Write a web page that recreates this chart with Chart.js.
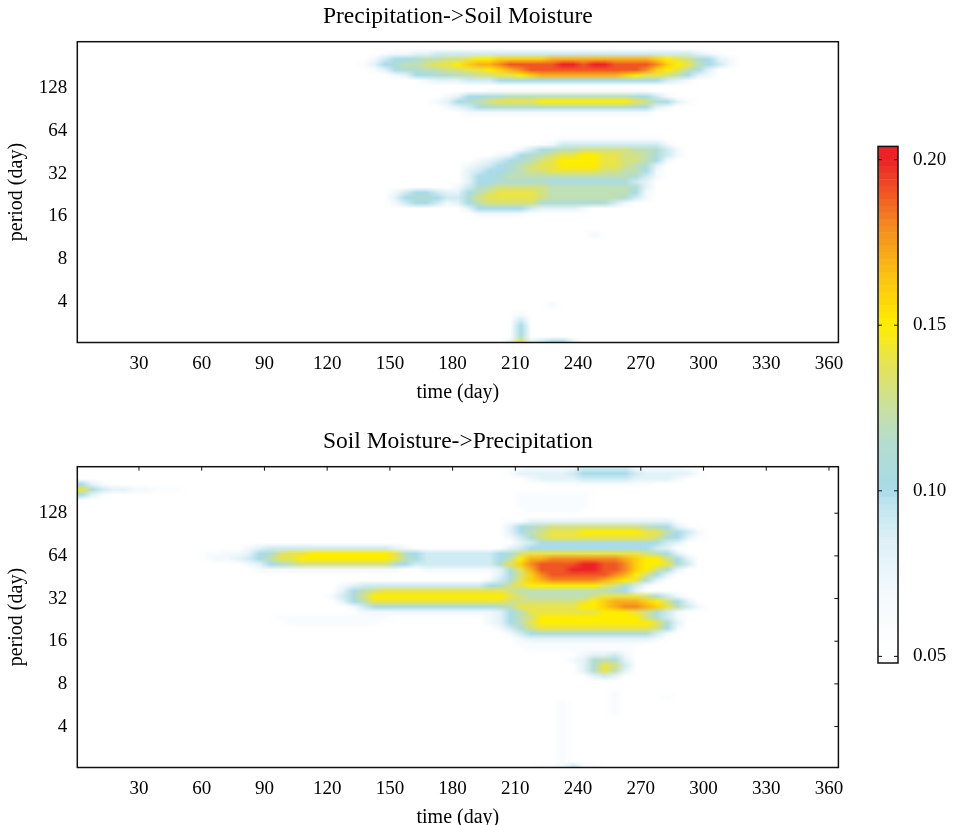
<!DOCTYPE html>
<html>
<head>
<meta charset="utf-8">
<title>Wavelet coherence: precipitation and soil moisture</title>
<script src="https://cdn.jsdelivr.net/npm/chart.js@4.4.1/dist/chart.umd.min.js"></script>
<style>
  html, body { margin: 0; padding: 0; background: #fff; overflow: hidden; }
  #wrap { position: relative; width: 959px; height: 825px; }
  canvas { position: absolute; }
</style>
</head>
<body>
<div id="wrap">
  <canvas id="topPanel" width="915" height="405" style="left:0;top:0"></canvas>
  <canvas id="bottomPanel" width="915" height="405" style="left:0;top:425px"></canvas>
  <canvas id="scaleBar" width="89" height="570" style="left:870px;top:120px"></canvas>
</div>
<script>
// grid columns: centre of each 5-day bin
const days = [2.5, 7.5, 12.5, 17.5, 22.5, 27.5, 32.5, 37.5, 42.5, 47.5, 52.5, 57.5, 62.5, 67.5, 72.5,
  77.5, 82.5, 87.5, 92.5, 97.5, 102.5, 107.5, 112.5, 117.5, 122.5, 127.5, 132.5, 137.5, 142.5, 147.5,
  152.5, 157.5, 162.5, 167.5, 172.5, 177.5, 182.5, 187.5, 192.5, 197.5, 202.5, 207.5, 212.5, 217.5,
  222.5, 227.5, 232.5, 237.5, 242.5, 247.5, 252.5, 257.5, 262.5, 267.5, 272.5, 277.5, 282.5, 287.5,
  292.5, 297.5, 302.5, 307.5, 312.5, 317.5, 322.5, 327.5, 332.5, 337.5, 342.5, 347.5, 352.5, 357.5, 362.5];

// grid rows: log2(period), top to bottom, 1/8 octave apart
const periodExp = [8.0625, 7.9375, 7.8125, 7.6875, 7.5625, 7.4375, 7.3125, 7.1875,
  7.0625, 6.9375, 6.8125, 6.6875, 6.5625, 6.4375, 6.3125, 6.1875,
  6.0625, 5.9375, 5.8125, 5.6875, 5.5625, 5.4375, 5.3125, 5.1875,
  5.0625, 4.9375, 4.8125, 4.6875, 4.5625, 4.4375, 4.3125, 4.1875,
  4.0625, 3.9375, 3.8125, 3.6875, 3.5625, 3.4375, 3.3125, 3.1875,
  3.0625, 2.9375, 2.8125, 2.6875, 2.5625, 2.4375, 2.3125, 2.1875,
  2.0625, 1.9375, 1.8125, 1.6875, 1.5625, 1.4375, 1.3125, 1.1875,
  1.0625];

const timeTicks = [30, 60, 90, 120, 150, 180, 210, 240, 270, 300, 330, 360];
const periodTicks = [2, 3, 4, 5, 6, 7];          // 4 .. 128 days
const scaleTicks = [0.05, 0.10, 0.15, 0.20];

// runs of cells: [row, first column, coherence x100 ...]; cells not listed are below 0.05
const precipToSoil = [
  [2, 29, [6,7,7,8,8,9,9,9,9,9,9,9,9,9,9,9,9,9,9,9,9,9,9,9,9,9,9,9,9,9,8,7,6]],
  [3, 28, [7,9,10,10,11,12,12,13,13,14,15,15,16,16,16,16,16,17,17,17,17,17,17,17,17,17,17,16,15,14,13,11,10,8,7]],
  [4, 27, [6,8,10,11,12,12,13,14,14,15,16,17,17,18,19,19,19,19,19,20,20,19,20,20,19,19,19,19,18,16,15,14,12,10,9,7]],
  [5, 28, [6,8,10,11,11,12,12,13,13,14,14,15,16,17,18,19,19,19,19,19,19,19,19,19,19,19,18,16,15,14,12,10,8]],
  [6, 30, [7,8,10,10,11,11,12,12,13,13,14,14,15,16,17,17,17,17,17,17,17,17,16,15,14,14,13,12,10,8,7]],
  [7, 33, [7,8,8,8,9,9,9,10,10,10,10,10,10,10,10,10,10,10,10,10,10,10,10,9,8,7]],
  [9, 39, [6,6,6,6,6,6,6,6,6,6,6,6,6,6,6,6]],
  [10, 35, [7,8,10,10,11,11,12,12,12,12,12,12,12,12,12,12,12,12,11,10,9,7]],
  [11, 34, [7,8,10,11,12,13,14,14,14,14,15,15,15,15,15,15,15,15,15,14,13,11,10,8,6]],
  [12, 35, [7,8,9,10,11,11,11,11,11,11,11,11,11,11,11,11,11,11,10,10,8,7]],
  [13, 37, [7,7,7,7,7,7,7,7,7,7,7,7,7,7,7,7,7,7]],
  [18, 46, [6,6,6,6,6,6,6,6,6,6]],
  [19, 44, [6,7,9,9,9,9,9,9,9,9,9,9,7]],
  [20, 42, [7,9,10,11,12,12,13,13,13,13,13,12,12,11,9,7]],
  [21, 40, [7,8,10,11,12,13,14,14,15,15,14,14,13,13,12,11,9,7]],
  [22, 38, [7,8,9,10,11,12,13,14,15,15,15,15,14,14,13,13,12,10,7]],
  [23, 37, [7,8,9,10,11,12,13,14,14,15,15,15,15,14,14,13,12,11,8]],
  [24, 37, [8,9,10,10,11,12,13,13,14,14,14,14,14,13,13,12,12,10,7]],
  [25, 37, [8,10,10,11,12,12,12,12,12,12,12,12,12,12,12,12,11,9,7]],
  [26, 37, [8,10,10,11,11,11,11,11,10,10,10,10,10,10,10,10,9,8]],
  [27, 36, [7,9,11,12,13,13,13,13,13,12,12,12,12,12,12,12,12,11,8]],
  [28, 30, [7,9,10,10,9,8,8,10,12,13,14,14,14,14,13,12,12,12,12,12,12,12,12,10,7]],
  [29, 30, [8,10,11,11,10,9,9,11,13,14,14,14,14,14,13,12,12,12,12,12,12,12,11,9,7]],
  [30, 30, [7,9,10,10,9,7,8,10,12,13,13,13,13,13,11,11,11,11,11,11,11,9,7]],
  [31, 37, [8,10,10,10,10,10,9,8,8,8,8,7]],
  [32, 38, [7,7,7,7,7]],
  [36, 49, [7]],
  [49, 45, [7]],
  [51, 42, [7]],
  [52, 42, [9]],
  [53, 42, [10]],
  [54, 42, [10]],
  [55, 42, [11]],
  [56, 41, [8,14,8,9,10,10,8]]
];

const soilToPrecip = [
  [0, 42, [6,7,7,7,7,7,9,9,9,9,9,7,7,7,7,7,6]],
  [1, 41, [6,8,8,8,8,8,9,10,10,10,10,10,9,8,8,8,8,8,6]],
  [2, 43, [7,8,8,8,8,9,9,9,9,9,8,8,8,8,7]],
  [3, 0, [10,8,6]],
  [3, 45, [6,6,6,6,6,6,6,6,6,6]],
  [4, 0, [14,11,9,8,8,7,7,6,6,6]],
  [5, 0, [10,8,6]],
  [5, 42, [6,6,6,6,6,6,6]],
  [6, 42, [6,6,6,6,6,6,6]],
  [7, 42, [6,6,6,6,6,6,6]],
  [8, 43, [6,6,6,6,6]],
  [10, 41, [6,6,8,8,8,8,8,8,8,8,8,8,8,8,8,8,6]],
  [11, 41, [8,10,11,12,13,13,13,13,13,13,13,13,13,12,11,10,8,6]],
  [12, 41, [8,10,12,13,14,14,14,15,15,15,15,15,15,14,14,12,10,9,7]],
  [13, 41, [7,9,11,13,14,14,14,14,14,14,14,14,14,14,13,11,10,8,6]],
  [14, 42, [8,9,10,10,10,10,10,10,10,10,10,10,10,10,9,8]],
  [15, 16, [7,8,9,9,9,9,9,9,9,9,9,9,9,9,8,7]],
  [15, 41, [8,9,10,10,10,10,10,10,10,10,10,10,10,10,9,8]],
  [16, 12, [6,6,7,7,8,10,11,13,14,14,15,15,15,15,15,15,15,15,14,11,10,9,9,9,9,9,9,9,10,11,13,14,14,14,14,14,14,14,14,14,14,14,13,12,10,8]],
  [17, 12, [6,7,7,8,9,10,12,14,14,15,15,15,15,15,15,15,15,15,14,12,10,9,9,9,9,9,9,9,10,12,15,17,17,18,18,18,18,18,18,18,17,16,15,15,13,10,8]],
  [18, 16, [7,8,10,11,12,13,13,13,13,13,13,13,13,13,11,10,9,9,9,9,9,9,9,9,11,14,16,18,19,19,19,19,20,20,19,19,18,16,15,15,14,11,9]],
  [19, 17, [7,7,7,7,7,7,7,7,7,7,7,7,7,7]],
  [19, 33, [7,7,7,7,7,7,7,8,11,14,17,19,19,19,20,20,20,19,19,18,16,15,13,11,8]],
  [20, 40, [8,10,13,16,18,19,19,19,19,19,19,18,17,15,13,10,8]],
  [21, 39, [7,9,11,14,16,17,18,18,18,18,18,17,16,15,14,11,8]],
  [22, 25, [7,8,9,9,9,9,9,9,9,9,9,9,9,9,10,11,13,14,15,15,15,15,15,15,15,14,13,11,9,7]],
  [23, 25, [8,10,12,13,14,14,14,14,14,14,14,14,14,14,14,14,13,12,12,12,12,12,12,12,12,12,11,10,8]],
  [24, 24, [7,9,11,13,15,15,15,15,15,15,15,15,15,15,15,15,15,14,13,12,12,12,12,12,12,13,14,14,14,14,13,11,9,7]],
  [25, 25, [8,10,12,14,14,14,14,14,14,14,14,14,14,14,14,14,13,13,13,13,13,13,13,14,15,16,17,17,17,16,15,13,10,8]],
  [26, 26, [7,9,10,10,10,10,10,10,10,10,10,10,10,10,11,12,14,14,14,14,14,14,15,15,16,17,18,18,17,16,14,12,9,7]],
  [27, 27, [7,7,7,7,7,7,7,7,7,7,7,7,7,8,10,12,14,14,14,14,14,14,14,15,15,15,14,13,11,9,7]],
  [28, 19, [6,6,6,6,6,6,6,6,6,6,6]],
  [28, 39, [7,8,10,12,13,15,15,15,15,15,15,15,15,15,15,13,11,9,7]],
  [29, 20, [6,6,6,6,6,6,6,6,6]],
  [29, 39, [7,8,10,12,14,15,15,15,15,15,15,15,15,15,15,15,14,11,8]],
  [30, 40, [7,9,11,13,14,14,14,14,14,14,14,14,14,14,14,13,10,7]],
  [31, 41, [7,9,10,11,11,11,11,11,11,11,11,11,11,11,9,7]],
  [32, 42, [7,8,8,8,8,8,8,8,8,8,8,8,8,7]],
  [33, 42, [6,6,6,6,6,6,6,6,6,6,6,6]],
  [34, 43, [6,6,6,6,6,6,6,6,6,6]],
  [35, 48, [7,8,8,9,7]],
  [36, 47, [7,8,11,12,11,8]],
  [37, 48, [8,11,14,13,9]],
  [38, 48, [8,11,14,12,8]],
  [39, 49, [8,9,8]],
  [42, 51, [6]],
  [43, 51, [6]], [43, 56, [6]],
  [44, 46, [6]], [44, 51, [6]],
  [45, 46, [6]], [45, 51, [6]],
  [46, 46, [6]], [46, 51, [6]],
  [47, 46, [6]],
  [48, 46, [6]],
  [49, 46, [6]],
  [50, 46, [6]], [51, 46, [6]], [52, 46, [6]],
  [53, 46, [6]], [54, 46, [6]], [55, 46, [6]],
  [56, 44, [6,6,7,9,6,6]]
];

// colour scale, white at 0.05 through light blue and yellow to red at 0.20
const colorStops = [
  [0.05, '#ffffff'], [0.07, '#f3f9fc'], [0.085, '#dcf0f6'], [0.095, '#c2e6f0'],
  [0.10, '#a9dbe8'], [0.115, '#b5ddcc'], [0.125, '#c9e0a0'], [0.14, '#e9e44a'],
  [0.15, '#ffed00'], [0.165, '#fbc114'], [0.18, '#f48a21'], [0.20, '#ec2227']
];

function hexRgb(h) {
  return [1, 3, 5].map(i => parseInt(h.slice(i, i + 2), 16));
}

function colorFor(v) {
  if (v <= colorStops[0][0]) return colorStops[0][1];
  for (let i = 1; i < colorStops.length; i++) {
    const [v1, c1] = colorStops[i];
    if (v <= v1) {
      const [v0, c0] = colorStops[i - 1];
      const t = (v - v0) / (v1 - v0);
      const a = hexRgb(c0), b = hexRgb(c1);
      const m = a.map((x, j) => Math.round(x + (b[j] - x) * t));
      return `rgb(${m[0]},${m[1]},${m[2]})`;
    }
  }
  return colorStops[colorStops.length - 1][1];
}

const SERIF = '"Liberation Serif", "Times New Roman", Times, serif';
Chart.defaults.font.family = SERIF;
Chart.defaults.color = '#000';

// paints the cell grid into the plot area, positioned by the chart's own scales
const heatmapPlugin = {
  id: 'heatmap',
  beforeDatasetsDraw(chart) {
    const { ctx, chartArea: a, scales: { x, y } } = chart;
    const img = document.createElement('canvas');
    img.width = days.length;
    img.height = periodExp.length;
    const g = img.getContext('2d');
    g.fillStyle = '#fff';
    g.fillRect(0, 0, img.width, img.height);
    for (const p of chart.data.datasets[0].data) {
      g.fillStyle = colorFor(p.v);
      g.fillRect(p.c, p.r, 1, 1);
    }
    const hx = (days[1] - days[0]) / 2;
    const hy = (periodExp[0] - periodExp[1]) / 2;
    const left = x.getPixelForValue(days[0] - hx);
    const right = x.getPixelForValue(days[days.length - 1] + hx);
    const top = y.getPixelForValue(periodExp[0] + hy);
    const bottom = y.getPixelForValue(periodExp[periodExp.length - 1] - hy);
    ctx.save();
    ctx.beginPath();
    ctx.rect(a.left, a.top, a.right - a.left, a.bottom - a.top);
    ctx.clip();
    ctx.imageSmoothingEnabled = true;
    ctx.drawImage(img, left, top, right - left, bottom - top);
    ctx.restore();
  }
};

// box round the plot, with optional inward ticks
const framePlugin = {
  id: 'frame',
  afterDraw(chart, args, opts) {
    const { ctx, chartArea: a, scales } = chart;
    ctx.save();
    ctx.strokeStyle = '#111';
    ctx.lineWidth = 1;
    ctx.beginPath();
    if (opts.topTicks) {
      for (const t of scales.x.ticks) {
        const px = scales.x.getPixelForValue(t.value);
        ctx.moveTo(px, a.top);
        ctx.lineTo(px, a.top + 4);
      }
    }
    if (opts.rightTicks || opts.bothTicks) {
      for (const t of scales.y.ticks) {
        const py = scales.y.getPixelForValue(t.value);
        ctx.moveTo(a.right, py);
        ctx.lineTo(a.right - 4, py);
        if (opts.bothTicks) {
          ctx.moveTo(a.left, py);
          ctx.lineTo(a.left + 4, py);
        }
      }
    }
    ctx.stroke();
    ctx.lineWidth = 1.5;
    ctx.strokeRect(a.left, a.top, a.right - a.left, a.bottom - a.top);
    ctx.restore();
  }
};

function panel(canvasId, title, cells, tickMarks) {
  const points = [];
  for (const [r, c0, vals] of cells) {
    vals.forEach((n, i) => {
      points.push({ x: days[c0 + i], y: periodExp[r], v: n / 100, r, c: c0 + i });
    });
  }
  return new Chart(document.getElementById(canvasId), {
    type: 'scatter',
    data: { datasets: [{ data: points, pointRadius: 0, pointHoverRadius: 0 }] },
    options: {
      responsive: false,
      animation: false,
      events: [],
      layout: { padding: { right: 76.6 } },
      plugins: {
        legend: { display: false },
        tooltip: { enabled: false },
        title: {
          display: true,
          fullSize: false,
          text: title,
          color: '#000',
          font: { size: 23.5, weight: 'normal' },
          padding: { top: 2.5, bottom: 11.0 }
        },
        frame: tickMarks
      },
      scales: {
        x: {
          type: 'linear',
          min: 0.5,
          max: 364.5,
          afterBuildTicks: s => { s.ticks = timeTicks.map(value => ({ value })); },
          afterFit: s => { s.height = 62.5; },
          grid: { display: false, drawTicks: false },
          border: { display: false },
          ticks: { font: { size: 19 }, color: '#000', padding: 9.8, maxRotation: 0 },
          title: { display: true, text: 'time (day)', color: '#000', font: { size: 20 }, padding: { top: 0, bottom: 0 } }
        },
        y: {
          type: 'linear',
          min: 1.04,
          max: 8.09,
          afterBuildTicks: s => { s.ticks = periodTicks.map(value => ({ value })); },
          afterFit: s => { s.width = 77.3; },
          grid: { display: false, drawTicks: false },
          border: { display: false },
          ticks: { font: { size: 19 }, color: '#000', padding: 10, callback: v => String(2 ** v) },
          title: { display: true, text: 'period (day)', color: '#000', font: { size: 20 }, padding: { top: 5, bottom: 0 } }
        }
      }
    },
    plugins: [heatmapPlugin, framePlugin]
  });
}

panel('topPanel', 'Precipitation->Soil Moisture', precipToSoil, {});
panel('bottomPanel', 'Soil Moisture->Precipitation', soilToPrecip, { topTicks: true, rightTicks: true });

// colour bar: thin floating bars stacked over the value range
const barMin = 0.048, barMax = 0.204, barStep = 0.002;
const bands = [];
for (let lo = barMin; lo < barMax - 1e-9; lo += barStep) bands.push([lo, Math.min(lo + barStep, barMax)]);

new Chart(document.getElementById('scaleBar'), {
  type: 'bar',
  data: {
    labels: [''],
    datasets: bands.map(b => ({
      data: [b],
      backgroundColor: colorFor((b[0] + b[1]) / 2),
      borderWidth: 0,
      grouped: false,
      barPercentage: 1,
      categoryPercentage: 1
    }))
  },
  options: {
    responsive: false,
    animation: false,
    events: [],
    layout: { padding: { left: 8, top: 26, bottom: 27, right: 0 } },
    plugins: { legend: { display: false }, tooltip: { enabled: false }, frame: { bothTicks: true } },
    scales: {
      x: { display: false },
      y: {
        position: 'right',
        min: barMin,
        max: barMax,
        afterBuildTicks: s => { s.ticks = scaleTicks.map(value => ({ value })); },
        afterFit: s => { s.width = 61; },
        grid: { display: false, drawTicks: false },
        border: { display: false },
        ticks: { font: { size: 19 }, color: '#000', padding: 15, callback: v => v.toFixed(2) }
      }
    }
  },
  plugins: [framePlugin]
});
</script>
</body>
</html>
